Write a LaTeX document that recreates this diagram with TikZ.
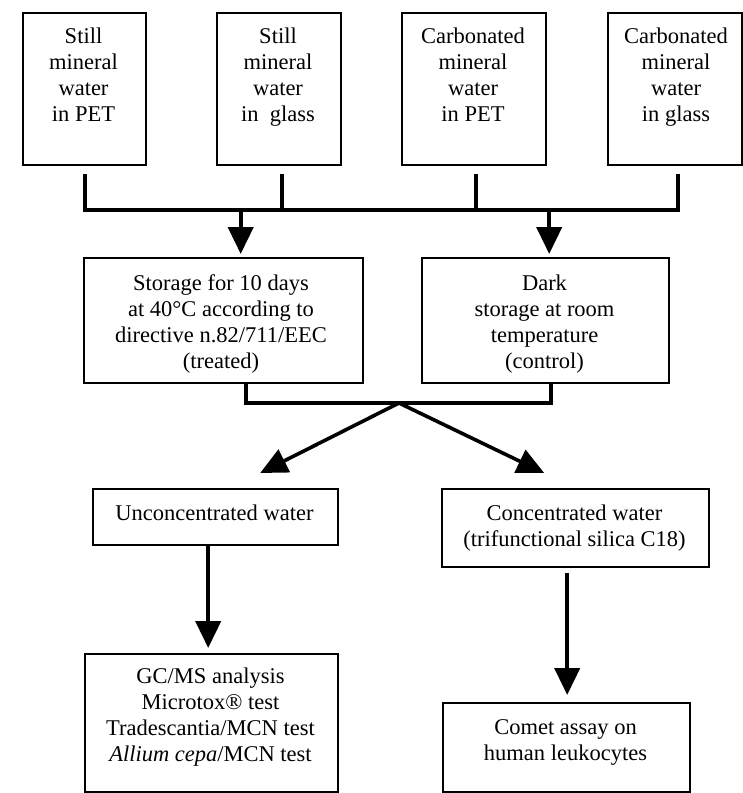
\documentclass[tikz,border=0pt]{standalone}
\usepackage{fontspec}
\setmainfont{Liberation Serif}
\usetikzlibrary{arrows.meta}
\tikzset{
  box/.style={draw=black, line width=2.4pt, rectangle, inner sep=0pt, anchor=north west},
  txt/.style={align=center, inner sep=0pt, anchor=north, font=\fontsize{22.5pt}{26pt}\selectfont},
  conn/.style={draw=black, line width=4.2pt},
  arr/.style={draw=black, line width=4.2pt, -{Triangle[width=25pt,length=27pt]}},
  darr/.style={draw=black, line width=3.6pt, -{Triangle[width=25pt,length=27pt]}}
}
\begin{document}
\begin{tikzpicture}[x=1pt,y=-1pt]
\useasboundingbox (0,0) rectangle (743,793);
% boxes
\node[box, minimum width=123pt, minimum height=152pt] (b1) at (22,12) {};
\node[box, minimum width=124pt, minimum height=152pt] (b2) at (216,12) {};
\node[box, minimum width=144pt, minimum height=152pt] (b3) at (401,12) {};
\node[box, minimum width=134pt, minimum height=152pt] (b4) at (607,12) {};
\node[box, minimum width=279pt, minimum height=125pt] (s1) at (83,257) {};
\node[box, minimum width=247pt, minimum height=125pt] (s2) at (421,257) {};
\node[box, minimum width=245pt, minimum height=56pt] (u1) at (92,488) {};
\node[box, minimum width=267pt, minimum height=78pt] (c1) at (441,488) {};
\node[box, minimum width=253pt, minimum height=138pt] (g1) at (84,653) {};
\node[box, minimum width=247pt, minimum height=89pt] (m1) at (442,702) {};
% texts
\node[txt] (t1) at (83.5,27.3) {Still\\mineral\\water\\in PET};
\node[txt] (t2) at (278,27.3) {Still\\mineral\\water\\in\ \ glass};
\node[txt] (t3) at (473,27.3) {Carbonated\\mineral\\water\\in PET};
\node[txt] (t4) at (676,27.3) {Carbonated\\mineral\\water\\in glass};
\node[txt] (t5) at (221,274.6) {Storage for 10 days\\at 40°C according to\\directive n.82/711/EEC\\(treated)};
\node[txt] (t6) at (544.5,274.6) {Dark\\storage at room\\temperature\\(control)};
\node[txt] (t7) at (214.5,504.6) {Unconcentrated water};
\node[txt] (t8) at (574.5,504.6) {Concentrated water\\(trifunctional silica C18)};
\node[txt] (t9) at (210.5,667.6) {GC/MS analysis\\Microtox® test\\Tradescantia/MCN test\\\textit{Allium cepa}/MCN test};
\node[txt] (t10) at (565.5,719.6) {Comet assay on\\human leukocytes};
% connector coordinates
\coordinate (bar) at (0,210);
\coordinate (mid) at (399,403);
% top collecting bar
\draw[conn] ([xshift=0.5pt,yshift=-8pt]b1.south) |- ([xshift=3pt]b4.south |- bar) -- ([xshift=3pt,yshift=-8pt]b4.south);
\draw[conn] ([xshift=3pt,yshift=-8pt]b2.south) -- ([xshift=3pt]b2.south |- bar);
\draw[conn] ([xshift=2pt,yshift=-8pt]b3.south) -- ([xshift=2pt]b3.south |- bar);
% arrows to storage boxes
\draw[arr] ([xshift=17pt]s1.north |- bar) -- ([xshift=17pt,yshift=3pt]s1.north);
\draw[arr] ([xshift=3.5pt]s2.north |- bar) -- ([xshift=3.5pt,yshift=3pt]s2.north);
% bracket below storage boxes
\draw[conn] ([xshift=22.5pt]s1.south) |- (mid) -| ([xshift=5.5pt]s2.south);
% diagonal arrows
\draw[darr] (mid) -- ([xshift=44.5pt,yshift=15pt]u1.north);
\draw[darr] (mid) -- ([xshift=-31.5pt,yshift=15pt]c1.north);
% down arrows
\draw[arr] ([xshift=-7.5pt]u1.south) -- ([xshift=-3.5pt,yshift=5pt]g1.north);
\draw[arr] ([xshift=-8.5pt,yshift=-5pt]c1.south) -- ([xshift=0.5pt,yshift=7pt]m1.north);
\end{tikzpicture}
\end{document}
